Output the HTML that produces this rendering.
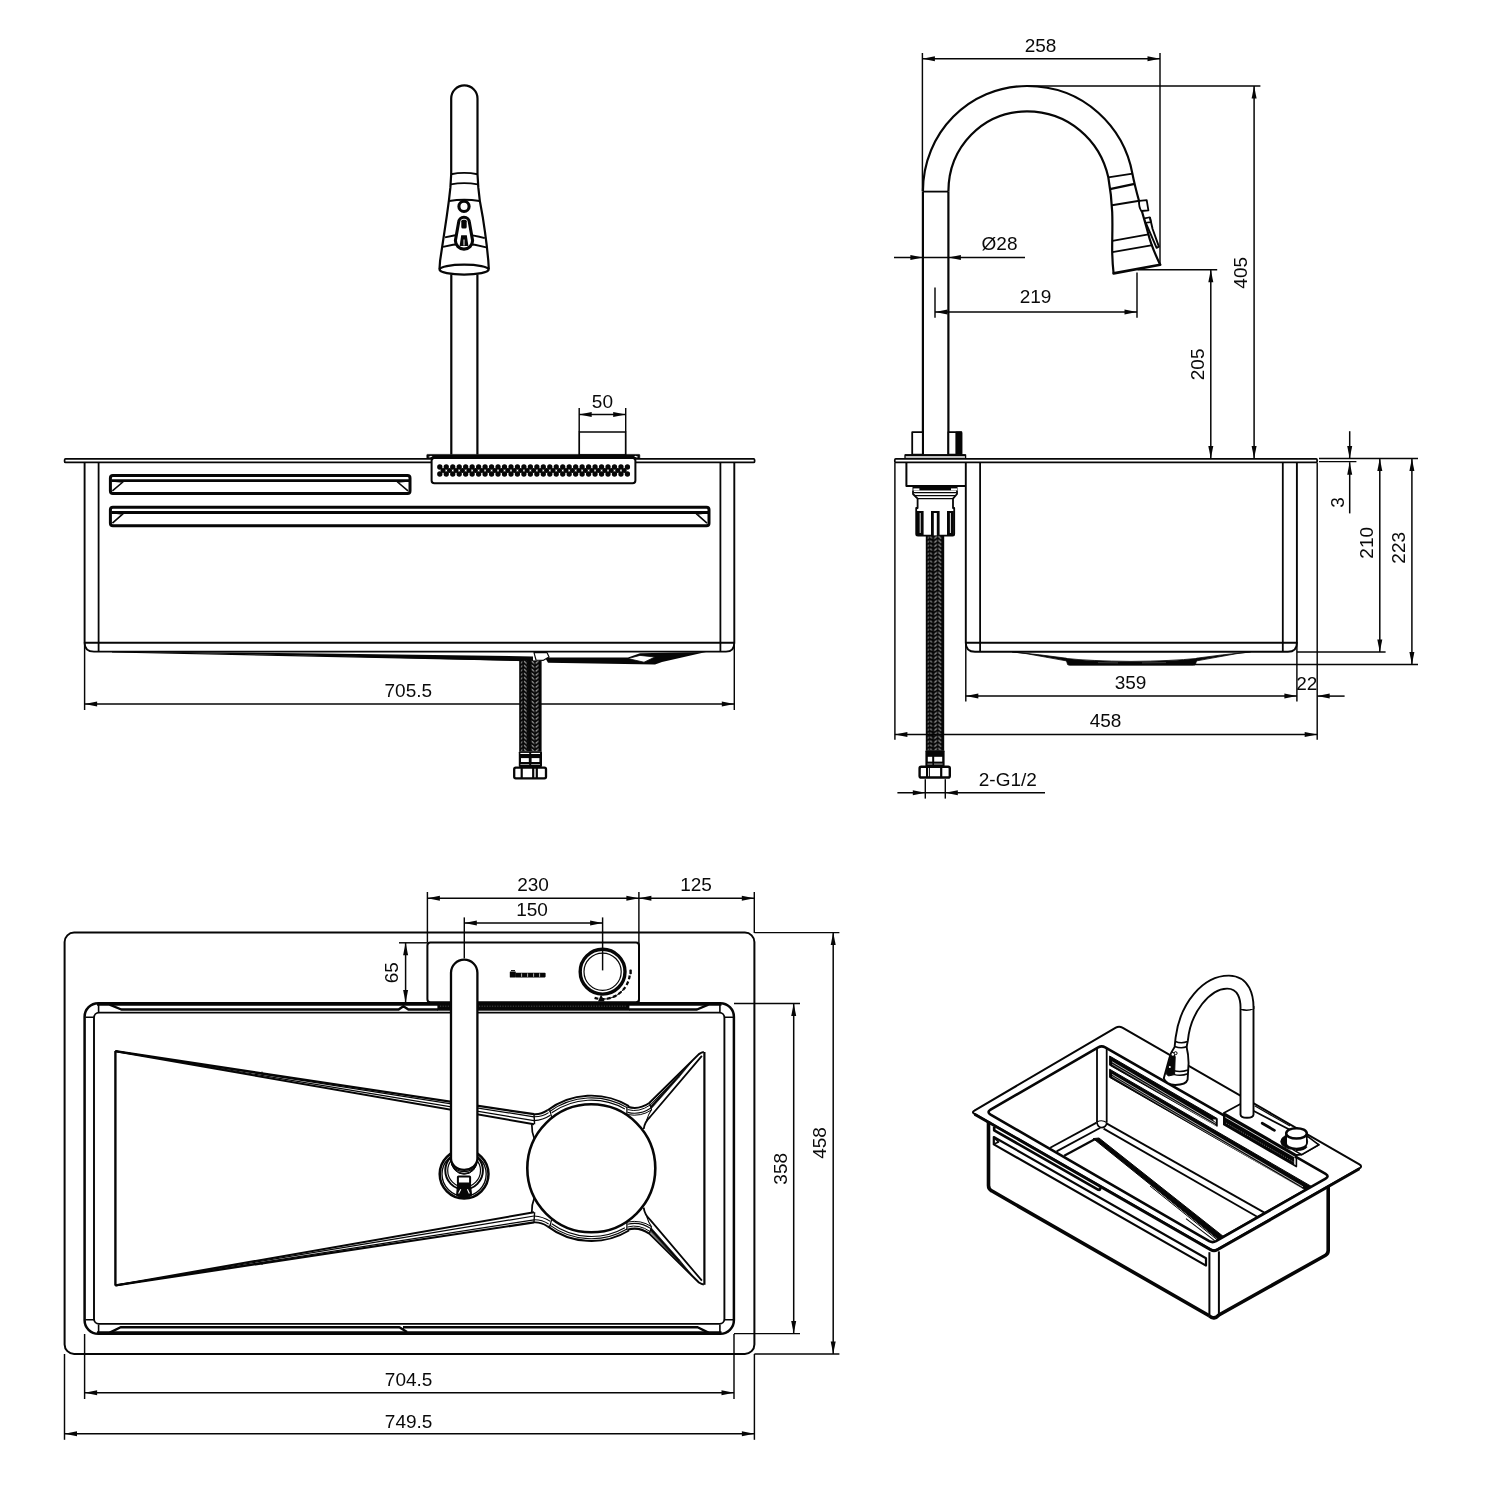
<!DOCTYPE html>
<html><head><meta charset="utf-8"><title>Sink drawing</title>
<style>
html,body{margin:0;padding:0;background:#fff;}
body{width:1485px;height:1500px;overflow:hidden;}
svg{display:block;}
svg{will-change:transform;}
svg text{font-family:"Liberation Sans",sans-serif;font-size:19.0px;fill:#0a0a0a;stroke:none;}
</style></head><body>
<svg width="1485" height="1500" viewBox="0 0 1485 1500" fill="none" stroke="#060606" stroke-linecap="butt" stroke-linejoin="round">
<rect x="0" y="0" width="1485" height="1500" fill="#fff" stroke="none"/>
<defs>
<pattern id="braid1" x="519.2" y="660.4" width="22.4" height="4" patternUnits="userSpaceOnUse">
<rect width="22.4" height="4" fill="#060606"/>
<path d="M1.8,2.6 L3.2,1.4 M4.8,0.8 L7.4,3.0 M12.4,0.8 L15,3.0 M16.4,3.0 L19.2,0.8" stroke="#fff" stroke-width="0.95" fill="none"/>
<circle cx="9" cy="1.4" r="0.55" fill="#ddd"/>
</pattern>
<pattern id="braid2" x="925.8" y="535.6" width="18.4" height="4" patternUnits="userSpaceOnUse">
<rect width="18.4" height="4" fill="#060606"/>
<path d="M1.8,2.7 L3.0,1.5 M4.4,1.0 L6.0,2.8 M8.4,3.0 L11.2,0.8 M12.6,0.6 L15.4,3.0" stroke="#fff" stroke-width="0.95" fill="none"/>
</pattern>
</defs>
<path d="M451.2,174 L451.2,98.6 A13.15,13.15 0 0 1 477.5,98.6 L477.5,174" stroke-width="2.2" fill="none" />
<path d="M451,174.2 Q464,171.6 477.6,174.2" stroke-width="1.9" fill="none" />
<path d="M450.8,184.4 Q464,181.8 477.8,184.4" stroke-width="1.9" fill="none" />
<path d="M449.2,201 Q464,198.6 479.6,201" stroke-width="1.9" fill="none" />
<path d="M451.2,174 L450.4,187.4 L448.9,200.6 L446.7,216.7 L444.5,231.4 L442.3,246 L440.1,260.7 L439.5,269" stroke-width="2.2" fill="none" />
<path d="M477.5,174 L478.3,187.4 L479.8,200.6 L482.7,216.7 L484.9,231.4 L486.8,246 L488.3,260.7 L488.8,269" stroke-width="2.2" fill="none" />
<path d="M445,237.4 Q464,231.6 484.8,238.2" stroke-width="1.9" fill="none" />
<path d="M443,246.8 Q464,241 486.4,247.4" stroke-width="1.9" fill="none" />
<ellipse cx="464.1" cy="269.6" rx="24.5" ry="5.0" stroke-width="2.4" fill="#fff" />
<circle cx="464" cy="206.4" r="5.1" stroke-width="3.1" fill="#fff"/>
<path d="M458.6,222.6 A5.4,5.4 0 0 1 469.4,222.6 L472.6,240.5 A8.6,8.6 0 0 1 455.4,240.5 Z" stroke-width="3.1" fill="#fff" />
<rect x="461.3" y="219.8" width="5.4" height="8.8" rx="1.5" stroke-width="0" fill="#060606" stroke="none"/>
<path d="M461.2,235.2 L466.8,235.2 L468.4,246 L459.6,246 Z" stroke-width="0" fill="#060606" stroke="none"/>
<line x1="464" y1="239.5" x2="464" y2="245.5" stroke-width="1.0" stroke="#fff"/>
<line x1="451.3" y1="274.4" x2="451.3" y2="454.6" stroke-width="2.2" />
<line x1="477.4" y1="274.4" x2="477.4" y2="454.6" stroke-width="2.2" />
<rect x="579.2" y="432" width="46.5" height="23" rx="0" stroke-width="1.7" fill="none" />
<line x1="579.2" y1="408" x2="579.2" y2="432" stroke-width="1.45" />
<line x1="625.7" y1="408" x2="625.7" y2="432" stroke-width="1.45" />
<line x1="579.2" y1="414.6" x2="625.7" y2="414.6" stroke-width="1.5" /><polygon points="579.2,414.6 591.7,412.1 591.7,417.1" fill="#060606" stroke="none"/><polygon points="625.7,414.6 613.2,412.1 613.2,417.1" fill="#060606" stroke="none"/>
<text x="602.4" y="407.6" text-anchor="middle">50</text>
<rect x="64.6" y="458.9" width="690" height="3.5" rx="1" stroke-width="1.7" fill="none" />
<rect x="426.8" y="454.4" width="213" height="3.8" rx="0.6" stroke-width="0.6" fill="#060606" />
<polygon points="428.2,457 431,455.8 432.6,456.4 430,457.6" fill="#fff" stroke="none"/>
<polygon points="638.4,457 635.6,455.8 634,456.4 636.6,457.6" fill="#fff" stroke="none"/>
<rect x="431.6" y="458" width="203.8" height="25.2" rx="2.8" stroke-width="2.0" fill="#fff" />
<g fill="#060606" stroke="none"><circle cx="439.80" cy="467" r="2.65"/><circle cx="439.80" cy="474" r="2.65"/><circle cx="446.27" cy="467" r="2.65"/><circle cx="446.27" cy="474" r="2.65"/><circle cx="452.74" cy="467" r="2.65"/><circle cx="452.74" cy="474" r="2.65"/><circle cx="459.21" cy="467" r="2.65"/><circle cx="459.21" cy="474" r="2.65"/><circle cx="465.68" cy="467" r="2.65"/><circle cx="465.68" cy="474" r="2.65"/><circle cx="472.15" cy="467" r="2.65"/><circle cx="472.15" cy="474" r="2.65"/><circle cx="478.62" cy="467" r="2.65"/><circle cx="478.62" cy="474" r="2.65"/><circle cx="485.09" cy="467" r="2.65"/><circle cx="485.09" cy="474" r="2.65"/><circle cx="491.56" cy="467" r="2.65"/><circle cx="491.56" cy="474" r="2.65"/><circle cx="498.03" cy="467" r="2.65"/><circle cx="498.03" cy="474" r="2.65"/><circle cx="504.50" cy="467" r="2.65"/><circle cx="504.50" cy="474" r="2.65"/><circle cx="510.97" cy="467" r="2.65"/><circle cx="510.97" cy="474" r="2.65"/><circle cx="517.44" cy="467" r="2.65"/><circle cx="517.44" cy="474" r="2.65"/><circle cx="523.91" cy="467" r="2.65"/><circle cx="523.91" cy="474" r="2.65"/><circle cx="530.38" cy="467" r="2.65"/><circle cx="530.38" cy="474" r="2.65"/><circle cx="536.85" cy="467" r="2.65"/><circle cx="536.85" cy="474" r="2.65"/><circle cx="543.32" cy="467" r="2.65"/><circle cx="543.32" cy="474" r="2.65"/><circle cx="549.79" cy="467" r="2.65"/><circle cx="549.79" cy="474" r="2.65"/><circle cx="556.26" cy="467" r="2.65"/><circle cx="556.26" cy="474" r="2.65"/><circle cx="562.73" cy="467" r="2.65"/><circle cx="562.73" cy="474" r="2.65"/><circle cx="569.20" cy="467" r="2.65"/><circle cx="569.20" cy="474" r="2.65"/><circle cx="575.67" cy="467" r="2.65"/><circle cx="575.67" cy="474" r="2.65"/><circle cx="582.14" cy="467" r="2.65"/><circle cx="582.14" cy="474" r="2.65"/><circle cx="588.61" cy="467" r="2.65"/><circle cx="588.61" cy="474" r="2.65"/><circle cx="595.08" cy="467" r="2.65"/><circle cx="595.08" cy="474" r="2.65"/><circle cx="601.55" cy="467" r="2.65"/><circle cx="601.55" cy="474" r="2.65"/><circle cx="608.02" cy="467" r="2.65"/><circle cx="608.02" cy="474" r="2.65"/><circle cx="614.49" cy="467" r="2.65"/><circle cx="614.49" cy="474" r="2.65"/><circle cx="620.96" cy="467" r="2.65"/><circle cx="620.96" cy="474" r="2.65"/><circle cx="627.43" cy="467" r="2.65"/><circle cx="627.43" cy="474" r="2.65"/><circle cx="443.04" cy="470.5" r="2.5"/><circle cx="449.50" cy="470.5" r="2.5"/><circle cx="455.98" cy="470.5" r="2.5"/><circle cx="462.44" cy="470.5" r="2.5"/><circle cx="468.92" cy="470.5" r="2.5"/><circle cx="475.38" cy="470.5" r="2.5"/><circle cx="481.86" cy="470.5" r="2.5"/><circle cx="488.32" cy="470.5" r="2.5"/><circle cx="494.80" cy="470.5" r="2.5"/><circle cx="501.26" cy="470.5" r="2.5"/><circle cx="507.74" cy="470.5" r="2.5"/><circle cx="514.21" cy="470.5" r="2.5"/><circle cx="520.67" cy="470.5" r="2.5"/><circle cx="527.14" cy="470.5" r="2.5"/><circle cx="533.62" cy="470.5" r="2.5"/><circle cx="540.09" cy="470.5" r="2.5"/><circle cx="546.56" cy="470.5" r="2.5"/><circle cx="553.02" cy="470.5" r="2.5"/><circle cx="559.50" cy="470.5" r="2.5"/><circle cx="565.97" cy="470.5" r="2.5"/><circle cx="572.43" cy="470.5" r="2.5"/><circle cx="578.90" cy="470.5" r="2.5"/><circle cx="585.38" cy="470.5" r="2.5"/><circle cx="591.85" cy="470.5" r="2.5"/><circle cx="598.32" cy="470.5" r="2.5"/><circle cx="604.78" cy="470.5" r="2.5"/><circle cx="611.25" cy="470.5" r="2.5"/><circle cx="617.73" cy="470.5" r="2.5"/><circle cx="624.19" cy="470.5" r="2.5"/></g>
<path d="M84.6,462.5 L84.6,643 Q84.6,651.6 94,651.6 L726,651.6 Q734.3,651.6 734.3,643 L734.3,462.5" stroke-width="1.9" fill="none" />
<line x1="98.6" y1="462.5" x2="98.6" y2="651.6" stroke-width="1.8" />
<line x1="720.4" y1="462.5" x2="720.4" y2="651.6" stroke-width="1.8" />
<line x1="84.6" y1="642.7" x2="734.3" y2="642.7" stroke-width="1.9" />
<rect x="110.4" y="475.4" width="299.6" height="18.0" rx="2.5" stroke-width="3.0" fill="none" /><line x1="111.4" y1="480.59999999999997" x2="409" y2="480.59999999999997" stroke-width="2.8" /><path d="M112.4,480.9 L122.9,482.0 L112.4,490.9" stroke-width="1.6" fill="none" /><path d="M408,480.9 L397.5,482.0 L408,490.9" stroke-width="1.6" fill="none" />
<rect x="110.4" y="507.3" width="598.6" height="18.400000000000034" rx="2.5" stroke-width="3.0" fill="none" /><line x1="111.4" y1="512.5" x2="708" y2="512.5" stroke-width="2.8" /><path d="M112.4,512.8 L122.9,513.9 L112.4,523.2" stroke-width="1.6" fill="none" /><path d="M707,512.8 L696.5,513.9 L707,523.2" stroke-width="1.6" fill="none" />
<polygon points="112,651.6 300,653.2 533,656.4 533,661.4 300,655.4" fill="#060606" stroke="none"/>
<line x1="112" y1="652" x2="533" y2="660.6" stroke-width="1.2" />
<polygon points="545,657.4 628,657.4 640,653.2 706,652 662,662 655,664.6 548,662.8" fill="#060606" stroke="none"/>
<polygon points="551,653.4 636,653.4 627,656.2 549.5,656.2" fill="#fff" stroke="none"/>
<polygon points="628,658.6 640,655.4 655,657 644,662.2" fill="#fff" stroke="#060606" stroke-width="0.8"/>
<polygon points="534,652.6 547,652.6 549,657 543,660.4 536,660" fill="#fff" stroke="#060606" stroke-width="1.2"/>
<line x1="84.6" y1="642" x2="84.6" y2="710" stroke-width="1.45" />
<line x1="734.3" y1="642" x2="734.3" y2="710" stroke-width="1.45" />
<line x1="84.6" y1="704.1" x2="734.3" y2="704.1" stroke-width="1.5" /><polygon points="84.6,704.1 97.1,701.6 97.1,706.6" fill="#060606" stroke="none"/><polygon points="734.3,704.1 721.8,701.6 721.8,706.6" fill="#060606" stroke="none"/>
<text x="408.3" y="697.4" text-anchor="middle">705.5</text>
<rect x="519.2" y="660.4" width="22.4" height="91" rx="0" stroke-width="0" fill="url(#braid1)" stroke="none"/>
<rect x="518.8" y="751.2" width="23.2" height="15.8" rx="1" stroke-width="0" fill="#060606" stroke="none"/>
<rect x="520.4" y="752.9" width="8.8" height="1.1" rx="0" stroke-width="0" fill="#fff" stroke="none"/>
<rect x="531.2" y="752.9" width="8.8" height="1.1" rx="0" stroke-width="0" fill="#fff" stroke="none"/>
<rect x="521" y="758.1" width="7.8" height="3.9" rx="0" stroke-width="0" fill="#fff" stroke="none"/>
<rect x="531.6" y="758.1" width="7.8" height="3.9" rx="0" stroke-width="0" fill="#fff" stroke="none"/>
<rect x="520.4" y="764.2" width="8.8" height="0.8" rx="0" stroke-width="0" fill="#bbb" stroke="none"/>
<rect x="531.2" y="764.2" width="8.8" height="0.8" rx="0" stroke-width="0" fill="#bbb" stroke="none"/>
<rect x="514.2" y="767.6" width="31.8" height="10.8" rx="1.6" stroke-width="2.3" fill="#fff" />
<line x1="521.7" y1="767.5" x2="521.7" y2="778.5" stroke-width="2.2" />
<line x1="533.2" y1="767.5" x2="533.2" y2="778.5" stroke-width="2.2" />
<line x1="536.8" y1="767.5" x2="536.8" y2="778.5" stroke-width="2.2" />
<line x1="922.9" y1="191.6" x2="922.9" y2="454.6" stroke-width="2.2" />
<line x1="948.4" y1="191.6" x2="948.4" y2="454.6" stroke-width="2.2" />
<line x1="922.9" y1="191.6" x2="948.4" y2="191.6" stroke-width="1.8" />
<path d="M922.9,191.6 C922.9,133 969,86 1027,86 C1085,86 1124,128 1132.4,173.6 C1134,182 1136,190 1139.2,201.5 C1142,212 1146,225 1148.3,234 C1151,245 1156,256 1160.2,264.8" stroke-width="2.2" fill="none" />
<path d="M948.4,191.6 C948.4,147 983,111.4 1027,111.4 C1068,111.4 1100,140 1108.3,177.3 C1110,187 1111.6,198 1112.2,212 C1112.8,226 1112,240 1112.2,252 C1112.4,262 1113,268 1113.6,273.4" stroke-width="2.2" fill="none" />
<line x1="1108.3" y1="177.4" x2="1132.6" y2="173.6" stroke-width="1.9" />
<line x1="1109.9" y1="189.2" x2="1134.6" y2="183.8" stroke-width="2.3" />
<line x1="1112" y1="205.2" x2="1139.4" y2="200.7" stroke-width="1.9" />
<line x1="1112.4" y1="240.9" x2="1148.4" y2="234.4" stroke-width="1.9" />
<line x1="1112.4" y1="252.1" x2="1152.6" y2="245.1" stroke-width="1.9" />
<path d="M1113.6,273.4 L1160.2,264.8" stroke-width="2.6" fill="none" stroke-linecap="round"/>
<path d="M1139.2,200.8 L1146.7,200.2 L1148.4,210.4 L1141.4,211 Q1138.6,207 1139.2,200.8 Z" stroke-width="1.8" fill="#fff" />
<path d="M1144.5,218.4 L1149.9,217.3 L1150.9,222.1 L1145.6,222.8 Z" stroke-width="1.6" fill="#fff" />
<path d="M1149.9,217.3 L1152.6,229 L1158.9,246.6 L1156.6,247.8 L1145.8,222.8" stroke-width="1.9" fill="none" />
<rect x="894.8" y="458.9" width="422.3" height="3.5" rx="1" stroke-width="1.7" fill="#fff" />
<rect x="912.2" y="432.2" width="10.6" height="22.4" rx="0" stroke-width="1.8" fill="#fff" />
<rect x="948.4" y="432.2" width="13" height="22.4" rx="0" stroke-width="1.8" fill="#fff" />
<rect x="956" y="432.2" width="5.6" height="22.4" rx="0.8" stroke-width="1.2" fill="#060606" />
<rect x="905" y="454.8" width="60.6" height="3.6" rx="0" stroke-width="1.3" fill="#fff" />
<line x1="905" y1="455.3" x2="965.6" y2="455.3" stroke-width="1.9" />
<path d="M906.4,462.5 L906.4,486 L965.8,486" stroke-width="2" fill="none" />
<rect x="913" y="486" width="44" height="4.6" rx="0" stroke-width="1" fill="#060606" />
<rect x="913.4" y="488.4" width="6" height="2" rx="0" stroke-width="0" fill="#fff" stroke="none"/>
<rect x="951" y="488.4" width="6" height="2" rx="0" stroke-width="0" fill="#fff" stroke="none"/>
<path d="M913,490.6 L913,494 L917.6,498.6 L917.6,508 L916.2,508 L916.2,534 Q916.2,535.6 918,535.6 L952.6,535.6 Q954.2,535.6 954.2,534 L954.2,508 L953,508 L953,498.6 L957,494 L957,490.6" stroke-width="1.8" fill="#fff" />
<line x1="913.6" y1="492.6" x2="956.6" y2="492.6" stroke-width="1.4" />
<line x1="915" y1="495.6" x2="955" y2="495.6" stroke-width="1.4" />
<line x1="917.6" y1="498.6" x2="953" y2="498.6" stroke-width="1.4" />
<rect x="916.8" y="511" width="6.8" height="24" rx="0" stroke-width="0" fill="#060606" stroke="none"/>
<line x1="920.2" y1="513" x2="920.2" y2="533" stroke-width="0.9" stroke="#fff"/>
<rect x="947" y="511" width="6.8" height="24" rx="0" stroke-width="0" fill="#060606" stroke="none"/>
<line x1="950.4" y1="513" x2="950.4" y2="533" stroke-width="0.9" stroke="#fff"/>
<rect x="931" y="511" width="8.6" height="24" rx="0" stroke-width="0" fill="#060606" stroke="none"/>
<rect x="933.8" y="513" width="3" height="22.6" rx="0" stroke-width="0" fill="#fff" stroke="none"/>
<path d="M965.8,462.5 L965.8,643 Q965.8,651.8 975,651.8 L1288,651.8 Q1296.9,651.8 1296.9,643 L1296.9,462.5" stroke-width="1.9" fill="none" />
<line x1="980.1" y1="462.5" x2="980.1" y2="651.8" stroke-width="1.8" />
<line x1="1282.8" y1="462.5" x2="1282.8" y2="651.8" stroke-width="1.8" />
<line x1="965.8" y1="642.8" x2="1296.9" y2="642.8" stroke-width="1.9" />
<path d="M1012,651.9 Q1040,654.6 1066.4,658.2 L1067,661 Q1044,656.8 1026,653.6 Z" stroke-width="0.8" fill="#060606" />
<path d="M1250.6,651.9 Q1222,654.6 1196.6,658.2 L1196,661 Q1219,656.8 1237,653.6 Z" stroke-width="0.8" fill="#060606" />
<path d="M1065.8,658.4 Q1090,661 1131,661.4 Q1172,661 1197.2,658.4 L1195.4,664.6 Q1194.6,665.2 1193,665.2 L1070,665.2 Q1068.4,665.2 1067.6,664.6 Z" stroke-width="0.8" fill="#060606" />
<line x1="1098" y1="662.6" x2="1118" y2="662.9" stroke-width="0.7" stroke="#555"/>
<line x1="1142" y1="662.9" x2="1166" y2="662.6" stroke-width="0.7" stroke="#555"/>
<rect x="925.8" y="535.6" width="18.4" height="215" rx="0" stroke-width="0" fill="url(#braid2)" stroke="none"/>
<rect x="925.4" y="750.2" width="19.2" height="16.6" rx="1" stroke-width="0" fill="#060606" stroke="none"/>
<rect x="927.8" y="756.8" width="4.4" height="4.8" rx="0" stroke-width="0" fill="#fff" stroke="none"/>
<rect x="934.2" y="756.8" width="8" height="4.8" rx="0" stroke-width="0" fill="#fff" stroke="none"/>
<rect x="927.4" y="763.6" width="5" height="0.9" rx="0" stroke-width="0" fill="#bbb" stroke="none"/>
<rect x="934" y="763.6" width="8.6" height="0.9" rx="0" stroke-width="0" fill="#bbb" stroke="none"/>
<rect x="919.6" y="766.8" width="30.2" height="10.7" rx="1.6" stroke-width="2.4" fill="#fff" />
<line x1="927" y1="766.8" x2="927" y2="777.5" stroke-width="2.0" />
<line x1="929.4" y1="766.8" x2="929.4" y2="777.5" stroke-width="1.0" />
<line x1="941.2" y1="766.8" x2="941.2" y2="777.5" stroke-width="2.2" />
<line x1="922.4" y1="53" x2="922.4" y2="191" stroke-width="1.45" />
<line x1="1160" y1="53" x2="1160" y2="264.6" stroke-width="1.45" />
<line x1="922.4" y1="58.8" x2="1160" y2="58.8" stroke-width="1.5" /><polygon points="922.4,58.8 934.9,56.3 934.9,61.3" fill="#060606" stroke="none"/><polygon points="1160,58.8 1147.5,56.3 1147.5,61.3" fill="#060606" stroke="none"/>
<text x="1040.6" y="51.6" text-anchor="middle">258</text>
<line x1="1027" y1="86" x2="1260.4" y2="86" stroke-width="1.45" />
<line x1="1254.1" y1="86" x2="1254.1" y2="458.6" stroke-width="1.5" /><polygon points="1254.1,86 1251.6,98.5 1256.6,98.5" fill="#060606" stroke="none"/><polygon points="1254.1,458.6 1251.6,446.1 1256.6,446.1" fill="#060606" stroke="none"/>
<text transform="translate(1247.2,272.8) rotate(-90)" text-anchor="middle">405</text>
<line x1="1137.6" y1="269.8" x2="1217.2" y2="269.8" stroke-width="1.45" />
<line x1="1210.8" y1="269.8" x2="1210.8" y2="458.6" stroke-width="1.5" /><polygon points="1210.8,269.8 1208.3,282.3 1213.3,282.3" fill="#060606" stroke="none"/><polygon points="1210.8,458.6 1208.3,446.1 1213.3,446.1" fill="#060606" stroke="none"/>
<text transform="translate(1204,364.4) rotate(-90)" text-anchor="middle">205</text>
<line x1="894" y1="257.6" x2="1025" y2="257.6" stroke-width="1.5" />
<polygon points="922.9,257.6 910.4,255.10000000000002 910.4,260.1" fill="#060606" stroke="none"/>
<polygon points="948.4,257.6 960.9,255.10000000000002 960.9,260.1" fill="#060606" stroke="none"/>
<text x="999.5" y="249.8" text-anchor="middle">Ø28</text>
<line x1="935" y1="287.4" x2="935" y2="317.8" stroke-width="1.45" />
<line x1="1137" y1="272.4" x2="1137" y2="317.8" stroke-width="1.45" />
<line x1="935" y1="311.9" x2="1137" y2="311.9" stroke-width="1.5" /><polygon points="935,311.9 947.5,309.4 947.5,314.4" fill="#060606" stroke="none"/><polygon points="1137,311.9 1124.5,309.4 1124.5,314.4" fill="#060606" stroke="none"/>
<text x="1035.6" y="303.4" text-anchor="middle">219</text>
<line x1="965.8" y1="642" x2="965.8" y2="701.6" stroke-width="1.45" />
<line x1="1296.9" y1="642" x2="1296.9" y2="701.6" stroke-width="1.45" />
<line x1="965.8" y1="696.1" x2="1296.9" y2="696.1" stroke-width="1.5" /><polygon points="965.8,696.1 978.3,693.6 978.3,698.6" fill="#060606" stroke="none"/><polygon points="1296.9,696.1 1284.4,693.6 1284.4,698.6" fill="#060606" stroke="none"/>
<text x="1130.6" y="689.2" text-anchor="middle">359</text>
<line x1="1317.2" y1="696.1" x2="1344.6" y2="696.1" stroke-width="1.5" />
<polygon points="1317.2,696.1 1329.7,693.6 1329.7,698.6" fill="#060606" stroke="none"/>
<text x="1306.8" y="689.8" text-anchor="middle">22</text>
<line x1="894.9" y1="463" x2="894.9" y2="739.8" stroke-width="1.45" />
<line x1="1317.2" y1="463" x2="1317.2" y2="739.8" stroke-width="1.45" />
<line x1="894.9" y1="734.6" x2="1317.2" y2="734.6" stroke-width="1.5" /><polygon points="894.9,734.6 907.4,732.1 907.4,737.1" fill="#060606" stroke="none"/><polygon points="1317.2,734.6 1304.7,732.1 1304.7,737.1" fill="#060606" stroke="none"/>
<text x="1105.5" y="727.4" text-anchor="middle">458</text>
<line x1="1349.7" y1="431.2" x2="1349.7" y2="458.4" stroke-width="1.5" />
<line x1="1349.7" y1="462.2" x2="1349.7" y2="513.4" stroke-width="1.5" />
<polygon points="1349.7,458.4 1347.2,445.9 1352.2,445.9" fill="#060606" stroke="none"/>
<polygon points="1349.7,462.2 1347.2,474.7 1352.2,474.7" fill="#060606" stroke="none"/>
<line x1="1319" y1="458.5" x2="1418" y2="458.5" stroke-width="1.45" />
<line x1="1319" y1="461.6" x2="1356.4" y2="461.6" stroke-width="1.45" />
<text transform="translate(1343.6,502.4) rotate(-90)" text-anchor="middle">3</text>
<line x1="1379.8" y1="458.6" x2="1379.8" y2="652" stroke-width="1.5" /><polygon points="1379.8,458.6 1377.3,471.1 1382.3,471.1" fill="#060606" stroke="none"/><polygon points="1379.8,652 1377.3,639.5 1382.3,639.5" fill="#060606" stroke="none"/>
<line x1="1297" y1="652" x2="1385.6" y2="652" stroke-width="1.45" />
<text transform="translate(1372.8,542.8) rotate(-90)" text-anchor="middle">210</text>
<line x1="1411.9" y1="458.6" x2="1411.9" y2="664.4" stroke-width="1.5" /><polygon points="1411.9,458.6 1409.4,471.1 1414.4,471.1" fill="#060606" stroke="none"/><polygon points="1411.9,664.4 1409.4,651.9 1414.4,651.9" fill="#060606" stroke="none"/>
<line x1="1194" y1="664.4" x2="1418" y2="664.4" stroke-width="1.45" />
<text transform="translate(1405.2,547.8) rotate(-90)" text-anchor="middle">223</text>
<line x1="925.3" y1="779.2" x2="925.3" y2="798.6" stroke-width="1.45" />
<line x1="945.3" y1="779.2" x2="945.3" y2="798.6" stroke-width="1.45" />
<line x1="897.4" y1="792.8" x2="1045" y2="792.8" stroke-width="1.5" />
<polygon points="925.3,792.8 912.8,790.3 912.8,795.3" fill="#060606" stroke="none"/>
<polygon points="945.3,792.8 957.8,790.3 957.8,795.3" fill="#060606" stroke="none"/>
<text x="1007.8" y="785.8" text-anchor="middle">2-G1/2</text>
<rect x="64.6" y="932.6" width="689.8" height="421.3" rx="9.5" stroke-width="2.0" fill="none" />
<rect x="84.6" y="1003.2" width="649.3" height="330.6" rx="13.6" stroke-width="2.5" fill="none" />
<rect x="94" y="1012.6" width="630.4" height="311.3" rx="5" stroke-width="1.9" fill="none" />
<path d="M98.6,1003.8000000000001 L98.6,1012.6 M85.39999999999999,1017.2 L94.0,1017.2" stroke-width="1.6" fill="none" />
<path d="M719.9,1003.8000000000001 L719.9,1012.6 M733.1,1017.2 L724.5,1017.2" stroke-width="1.6" fill="none" />
<path d="M98.6,1333.2 L98.6,1324.3999999999999 M85.39999999999999,1319.8 L94.0,1319.8" stroke-width="1.6" fill="none" />
<path d="M719.9,1333.2 L719.9,1324.3999999999999 M733.1,1319.8 L724.5,1319.8" stroke-width="1.6" fill="none" />
<line x1="97" y1="1004.5" x2="721.5" y2="1004.5" stroke-width="2.4" />
<path d="M109.6,1004.6 L121.3,1009.5 L398.6,1009.5 L403.4,1006.2 L408.4,1009.5 L438,1009.5" stroke-width="2.4" fill="none" />
<path d="M629,1009.5 L697,1009.5 L708.4,1004.6" stroke-width="2.4" fill="none" />
<rect x="437.4" y="1002.2" width="192" height="8.5" rx="0" stroke-width="0" fill="#060606" stroke="none"/>
<line x1="440" y1="1006.2" x2="626" y2="1006.2" stroke-width="0.7" stroke="#666" stroke-dasharray="1.2 1.4"/>
<line x1="97" y1="1332.6" x2="721.5" y2="1332.6" stroke-width="2.6" />
<path d="M109.8,1332.6 L120.6,1327.2 L399.4,1327.2 L407,1332 M403,1327.2 L697.6,1327.2 L708.4,1332.6" stroke-width="2.4" fill="none" />
<line x1="115.4" y1="1051" x2="115.4" y2="1285.6" stroke-width="2.4" />
<line x1="115.4" y1="1051.2" x2="534" y2="1114.2" stroke-width="2.2" />
<line x1="115.4" y1="1285.3999999999999" x2="534" y2="1222.3999999999999" stroke-width="2.2" />
<line x1="115.4" y1="1051.2" x2="534" y2="1116.8" stroke-width="1.2" />
<line x1="115.4" y1="1285.3999999999999" x2="534" y2="1219.8" stroke-width="1.2" />
<line x1="115.4" y1="1051.2" x2="534" y2="1120.6" stroke-width="1.2" />
<line x1="115.4" y1="1285.3999999999999" x2="534" y2="1216.0" stroke-width="1.2" />
<line x1="115.4" y1="1051.2" x2="534" y2="1124.3" stroke-width="2.0" />
<line x1="115.4" y1="1285.3999999999999" x2="534" y2="1212.3" stroke-width="2.0" />
<line x1="262" y1="1071.6" x2="262" y2="1074.6" stroke-width="1.0" />
<line x1="262" y1="1265.0" x2="262" y2="1262.0" stroke-width="1.0" />
<path d="M534,1114.2 Q541,1114.6 547.3,1110.4" stroke-width="1.9" fill="none" />
<path d="M534,1116.8 Q542,1117.0 548.6,1112.6" stroke-width="1.1" fill="none" />
<path d="M534,1120.6 Q543,1120.0 550.4,1115.2" stroke-width="1.1" fill="none" />
<line x1="534" y1="1114.2" x2="534.6" y2="1124.3" stroke-width="1.4" />
<line x1="549.6" y1="1109.4" x2="551.6" y2="1116.8" stroke-width="1.2" />
<path d="M531.8,1124.3 Q531.6,1132.0 534.4,1139.0" stroke-width="1.7" fill="none" />
<path d="M547.24,1110.47 A72.7,72.7 0 0 1 628.96,1106.12" stroke-width="1.9" fill="none" />
<path d="M549.42,1111.71 A70.4,70.4 0 0 1 627.03,1107.64" stroke-width="1.1" fill="none" />
<path d="M551.70,1112.78 A68.2,68.2 0 0 1 624.88,1108.94" stroke-width="1.1" fill="none" />
<line x1="626.9" y1="1106.6" x2="626.9" y2="1114.6" stroke-width="1.3" />
<path d="M627.6,1106.8 Q638.4,1110.4 649.3,1103.0 L698.9,1054.1 Q701.6,1052.2 703.8,1052.0" stroke-width="2.0" fill="none" />
<path d="M627.6,1109.6 Q639,1112.8 650.2,1105.0 L678.4,1076.2" stroke-width="1.0" fill="none" />
<path d="M627.6,1112.4 Q640,1115.4 650.9,1108.0" stroke-width="1.1" fill="none" />
<path d="M627.8,1114.6 Q641,1117.0 651.4,1110.0" stroke-width="1.0" fill="none" />
<line x1="649.6" y1="1103.4" x2="651.6" y2="1110.2" stroke-width="1.2" />
<polygon points="650.4,1106.2 678.6,1075.6 692,1061.6 678.8,1077.6 651.4,1108.6" fill="#060606" stroke="#060606" stroke-width="0.6"/>
<line x1="678" y1="1075.0" x2="679" y2="1077.4" stroke-width="1.0" />
<path d="M643.7,1129.0 Q644.6,1122.0 650,1117.0 L701.9,1055.9" stroke-width="1.8" fill="none" />
<path d="M651.4,1110.0 Q648.6,1113.6 646.6,1120.4" stroke-width="1.1" fill="none" />
<path d="M534,1222.3999999999999 Q541,1222.0 547.3,1226.1999999999998" stroke-width="1.9" fill="none" />
<path d="M534,1219.8 Q542,1219.6 548.6,1224.0" stroke-width="1.1" fill="none" />
<path d="M534,1216.0 Q543,1216.6 550.4,1221.3999999999999" stroke-width="1.1" fill="none" />
<line x1="534" y1="1222.3999999999999" x2="534.6" y2="1212.3" stroke-width="1.4" />
<line x1="549.6" y1="1227.1999999999998" x2="551.6" y2="1219.8" stroke-width="1.2" />
<path d="M531.8,1212.3 Q531.6,1204.6 534.4,1197.6" stroke-width="1.7" fill="none" />
<path d="M547.24,1226.13 A72.7,72.7 0 0 0 628.96,1230.48" stroke-width="1.9" fill="none" />
<path d="M549.42,1224.89 A70.4,70.4 0 0 0 627.03,1228.96" stroke-width="1.1" fill="none" />
<path d="M551.70,1223.82 A68.2,68.2 0 0 0 624.88,1227.66" stroke-width="1.1" fill="none" />
<line x1="626.9" y1="1230.0" x2="626.9" y2="1222.0" stroke-width="1.3" />
<path d="M627.6,1229.8 Q638.4,1226.1999999999998 649.3,1233.6 L698.9,1282.5 Q701.6,1284.3999999999999 703.8,1284.6" stroke-width="2.0" fill="none" />
<path d="M627.6,1227.0 Q639,1223.8 650.2,1231.6 L678.4,1260.3999999999999" stroke-width="1.0" fill="none" />
<path d="M627.6,1224.1999999999998 Q640,1221.1999999999998 650.9,1228.6" stroke-width="1.1" fill="none" />
<path d="M627.8,1222.0 Q641,1219.6 651.4,1226.6" stroke-width="1.0" fill="none" />
<line x1="649.6" y1="1233.1999999999998" x2="651.6" y2="1226.3999999999999" stroke-width="1.2" />
<polygon points="650.4,1230.3999999999999 678.6,1261.0 692,1275.0 678.8,1259.0 651.4,1228.0" fill="#060606" stroke="#060606" stroke-width="0.6"/>
<line x1="678" y1="1261.6" x2="679" y2="1259.1999999999998" stroke-width="1.0" />
<path d="M643.7,1207.6 Q644.6,1214.6 650,1219.6 L701.9,1280.6999999999998" stroke-width="1.8" fill="none" />
<path d="M651.4,1226.6 Q648.6,1223.0 646.6,1216.1999999999998" stroke-width="1.1" fill="none" />
<line x1="704.4" y1="1052" x2="704.4" y2="1284.8" stroke-width="2.2" />
<circle cx="591.3" cy="1168.3" r="64" stroke-width="2.6" fill="none"/>
<rect x="427.4" y="942.4" width="211.6" height="59.8" rx="3" stroke-width="2.0" fill="#fff" />
<circle cx="602.6" cy="971.7" r="22.4" stroke-width="3.4" fill="#fff"/>
<circle cx="602.6" cy="971.7" r="18.6" stroke-width="1.2" fill="none"/>
<path d="M629.73,975.51 A27.4,27.4 0 0 1 628.94,979.25 M628.18,981.52 A27.4,27.4 0 0 1 626.56,984.98 M625.32,987.02 A27.4,27.4 0 0 1 622.96,990.03 M621.29,991.74 A27.4,27.4 0 0 1 618.32,994.14 M616.30,995.43 A27.4,27.4 0 0 1 612.86,997.10 M610.61,997.90 A27.4,27.4 0 0 1 606.89,998.76 M604.51,999.03 A27.4,27.4 0 0 1 600.69,999.03 M598.31,998.76 A27.4,27.4 0 0 1 594.59,997.90" stroke-width="2.2" fill="none" />
<path d="M623.4,989.6 A27.4,27.4 0 0 1 600,999" stroke-width="1.0" fill="none" />
<rect x="629.4" y="969.6" width="2.4" height="4.6" rx="0.8" stroke-width="0" fill="#060606" stroke="none"/>
<polygon points="598,1001.6 601,994.6 604.6,1001.6" fill="#060606" stroke="none"/>
<rect x="509.8" y="971.6" width="6" height="5.8" rx="0.5" stroke-width="0" fill="#060606" stroke="none"/>
<rect x="515.4" y="972.8" width="30.2" height="4.6" rx="0.8" stroke-width="0" fill="#060606" stroke="none"/>
<line x1="511" y1="970.6" x2="515" y2="970.6" stroke-width="1" />
<line x1="521.6" y1="973.4" x2="521.6" y2="976.8" stroke-width="0.7" stroke="#fff"/>
<line x1="527.6" y1="973.4" x2="527.6" y2="976.8" stroke-width="0.7" stroke="#fff"/>
<line x1="533.6" y1="973.4" x2="533.6" y2="976.8" stroke-width="0.7" stroke="#fff"/>
<line x1="539.6" y1="973.4" x2="539.6" y2="976.8" stroke-width="0.7" stroke="#fff"/>
<circle cx="464.1" cy="1174.1" r="24.4" stroke-width="2.5" fill="#fff"/>
<circle cx="464.1" cy="1174.1" r="22.1" stroke-width="1.3" fill="none"/>
<circle cx="464.1" cy="1170.6" r="18.8" stroke-width="2.0" fill="none"/>
<circle cx="464.1" cy="1170.6" r="16.4" stroke-width="1.2" fill="none"/>
<path d="M457.6,1183.2 L470.4,1183.2 L471.6,1195.6 Q464.1,1199.6 456.6,1195.6 Z" stroke-width="1" fill="#060606" />
<rect x="457.9" y="1176.4" width="12.2" height="7" rx="0.6" stroke-width="2.0" fill="#fff" />
<path d="M460.8,1189.2 L458.6,1193.4 M467.4,1189.2 L469.4,1193.4" stroke-width="1.1" fill="none" stroke="#fff"/>
<path d="M450.9,1158 A13.2,15.4 0 0 0 477.4,1158 L477.4,1160 A13.2,14.2 0 0 1 450.9,1160 Z" stroke-width="1" fill="#060606" />
<path d="M451.6,1164 A13.4,11.8 0 0 0 476.6,1164" stroke-width="1.2" fill="none" />
<path d="M451,1158.6 L451,972.8 A13.2,13.2 0 0 1 477.4,972.8 L477.4,1158.6 A13.2,11.2 0 0 1 451,1158.6 Z" stroke-width="2.3" fill="#fff" />
<line x1="427.4" y1="892" x2="427.4" y2="942.6" stroke-width="1.45" />
<line x1="638.9" y1="892" x2="638.9" y2="1002" stroke-width="1.45" />
<line x1="754.3" y1="892" x2="754.3" y2="933" stroke-width="1.45" />
<line x1="427.4" y1="898.2" x2="638.9" y2="898.2" stroke-width="1.5" /><polygon points="427.4,898.2 439.9,895.7 439.9,900.7" fill="#060606" stroke="none"/><polygon points="638.9,898.2 626.4,895.7 626.4,900.7" fill="#060606" stroke="none"/>
<text x="533" y="891" text-anchor="middle">230</text>
<line x1="638.9" y1="898.2" x2="754.3" y2="898.2" stroke-width="1.5" /><polygon points="638.9,898.2 651.4,895.7 651.4,900.7" fill="#060606" stroke="none"/><polygon points="754.3,898.2 741.8,895.7 741.8,900.7" fill="#060606" stroke="none"/>
<text x="696" y="891" text-anchor="middle">125</text>
<line x1="464.3" y1="917.4" x2="464.3" y2="958.4" stroke-width="1.45" />
<line x1="602.6" y1="917.4" x2="602.6" y2="970.4" stroke-width="1.45" />
<line x1="464.3" y1="923.1" x2="602.6" y2="923.1" stroke-width="1.5" /><polygon points="464.3,923.1 476.8,920.6 476.8,925.6" fill="#060606" stroke="none"/><polygon points="602.6,923.1 590.1,920.6 590.1,925.6" fill="#060606" stroke="none"/>
<text x="532" y="916" text-anchor="middle">150</text>
<line x1="399" y1="942.8" x2="427.4" y2="942.8" stroke-width="1.45" />
<line x1="405.6" y1="942.8" x2="405.6" y2="1002.4" stroke-width="1.5" /><polygon points="405.6,942.8 403.1,955.3 408.1,955.3" fill="#060606" stroke="none"/><polygon points="405.6,1002.4 403.1,989.9 408.1,989.9" fill="#060606" stroke="none"/>
<text transform="translate(398.4,972.8) rotate(-90)" text-anchor="middle">65</text>
<line x1="734" y1="1003.4" x2="800" y2="1003.4" stroke-width="1.45" />
<line x1="734" y1="1333.6" x2="800" y2="1333.6" stroke-width="1.45" />
<line x1="793.7" y1="1003.4" x2="793.7" y2="1333.6" stroke-width="1.5" /><polygon points="793.7,1003.4 791.2,1015.9 796.2,1015.9" fill="#060606" stroke="none"/><polygon points="793.7,1333.6 791.2,1321.1 796.2,1321.1" fill="#060606" stroke="none"/>
<text transform="translate(786.8,1168.8) rotate(-90)" text-anchor="middle">358</text>
<line x1="754.4" y1="932.6" x2="839.4" y2="932.6" stroke-width="1.45" />
<line x1="754.4" y1="1353.9" x2="839.4" y2="1353.9" stroke-width="1.45" />
<line x1="833.2" y1="932.6" x2="833.2" y2="1353.9" stroke-width="1.5" /><polygon points="833.2,932.6 830.7,945.1 835.7,945.1" fill="#060606" stroke="none"/><polygon points="833.2,1353.9 830.7,1341.4 835.7,1341.4" fill="#060606" stroke="none"/>
<text transform="translate(826.4,1143) rotate(-90)" text-anchor="middle">458</text>
<line x1="84.6" y1="1334" x2="84.6" y2="1399" stroke-width="1.45" />
<line x1="734" y1="1334" x2="734" y2="1399" stroke-width="1.45" />
<line x1="84.6" y1="1392.8" x2="734" y2="1392.8" stroke-width="1.5" /><polygon points="84.6,1392.8 97.1,1390.3 97.1,1395.3" fill="#060606" stroke="none"/><polygon points="734,1392.8 721.5,1390.3 721.5,1395.3" fill="#060606" stroke="none"/>
<text x="408.6" y="1386" text-anchor="middle">704.5</text>
<line x1="64.5" y1="1354" x2="64.5" y2="1439.8" stroke-width="1.45" />
<line x1="754.4" y1="1354" x2="754.4" y2="1439.8" stroke-width="1.45" />
<line x1="64.5" y1="1433.8" x2="754.4" y2="1433.8" stroke-width="1.5" /><polygon points="64.5,1433.8 77.0,1431.3 77.0,1436.3" fill="#060606" stroke="none"/><polygon points="754.4,1433.8 741.9,1431.3 741.9,1436.3" fill="#060606" stroke="none"/>
<text x="408.6" y="1427.6" text-anchor="middle">749.5</text>
<path d="M988.5,1121.6 L988.5,1185.6 Q988.5,1189.2 991.6,1190.8 L1209.2,1315.8" stroke-width="3.6" fill="none" />
<path d="M1209.2,1315.8 Q1214,1320.4 1218.9,1315 L1325.6,1255.2 Q1328.2,1253.8 1328.2,1250.6 L1328.2,1186.4" stroke-width="3.6" fill="none" />
<line x1="1209.4" y1="1252.2" x2="1209.4" y2="1315.8" stroke-width="2.0" />
<line x1="1218.9" y1="1251.4" x2="1218.9" y2="1315" stroke-width="2.0" />
<path d="M974.4,1110.6 L1115.8,1027.6 Q1119.1,1025.7 1122.4,1027.6 L1359.4,1164.4 Q1362.8,1166.4 1359.4,1168.4 L1217.2,1249.4 Q1214,1251.2 1210.8,1249.4 L974.4,1113.8 Q971.4,1112.2 974.4,1110.6 Z" stroke-width="2.0" fill="none" />
<path d="M974.6,1114.2 L1210.6,1249.8 Q1214,1251.8 1217.4,1249.8 L1359.4,1168.8" stroke-width="3.0" fill="none" />
<path d="M990.6,1109.6 L1098.2,1047.4 Q1101.7,1045.4 1105.2,1047.4 L1325.6,1173.8 Q1329.6,1176.2 1325.6,1178.6 L1216,1241.2 Q1212.6,1243 1209.2,1241.2 L990.6,1114.6 Q986.4,1112 990.6,1109.6 Z" stroke-width="2.6" fill="#fff" />
<line x1="1222.6" y1="1236.6" x2="1305.6" y2="1189.4" stroke-width="1.6" />
<line x1="1097" y1="1048.4" x2="1097" y2="1122" stroke-width="1.8" />
<line x1="1106.7" y1="1048.4" x2="1106.7" y2="1122.6" stroke-width="1.8" />
<path d="M1097,1122 Q1097.4,1127.4 1101.9,1127.6 Q1106.4,1127.2 1106.7,1122.6" stroke-width="1.6" fill="none" />
<path d="M1097,1122 Q1101.8,1119.2 1106.7,1122.6" stroke-width="1.2" fill="none" />
<line x1="1096.6" y1="1122.6" x2="1050.2" y2="1147.8" stroke-width="1.8" />
<line x1="1100.4" y1="1127.8" x2="1056.6" y2="1151.4" stroke-width="1.8" />
<line x1="1095.2" y1="1139" x2="1064.2" y2="1155.8" stroke-width="2.2" />
<line x1="1106.9" y1="1123.6" x2="1264.4" y2="1212.6" stroke-width="1.8" />
<line x1="1103.6" y1="1128.6" x2="1257.2" y2="1216.8" stroke-width="1.8" />
<polygon points="1093.2,1138.6 1099,1138 1223,1236.2 1218.6,1239.6" fill="#060606" stroke="#060606" stroke-width="1"/>
<line x1="1150" y1="1186" x2="1217" y2="1239.6" stroke-width="1.0" />
<line x1="1186" y1="1218.6" x2="1214.6" y2="1240.6" stroke-width="1.1" />
<polygon points="1109.6,1056 1217.2,1118.5 1217.2,1126.3 1109.6,1065.2" fill="#060606" stroke="#060606" stroke-width="1"/><line x1="1112.1" y1="1061.8" x2="1215.7" y2="1123.3156000000001" stroke-width="0.7" stroke="#fff"/><line x1="1112.1" y1="1064.192" x2="1215.7" y2="1125.5076000000001" stroke-width="0.6" stroke="#ddd"/>
<polygon points="1212.6,1119.6 1215.8,1119.6 1215.8,1122.6" fill="#fff" stroke="none"/>
<polygon points="1109.6,1069.2 1311,1186.2 1305,1189.6 1109.6,1077.4" fill="#060606" stroke="#060606" stroke-width="1"/>
<line x1="1112.1" y1="1074.4" x2="1303" y2="1186.8134" stroke-width="0.7" stroke="#fff"/>
<line x1="1112.1" y1="1076.4" x2="1302" y2="1188.6134000000002" stroke-width="0.6" stroke="#ddd"/>
<path d="M994.2,1126.8 L994.2,1130.3 L1098.4,1189.8 Q1100.6,1190.4 1100,1187.3" stroke-width="2.7" fill="none" />
<path d="M993.8,1137.0 L1206,1258.2 L1206,1265.6 L993.8,1144.4 Z" stroke-width="2.2" fill="none" />
<path d="M994.6,1138.5 L998.6,1142.0 L994.6,1143.7" stroke-width="1.5" fill="none" />
<polygon points="1223.8,1113 1240.4,1104 1318.8,1144.8 1301.4,1154.6 1296.4,1155 " fill="#fff" stroke="#060606" stroke-width="1.8"/>
<polygon points="1223.8,1114.4 1296.4,1156 1296.4,1166.6 1223.8,1124.6" fill="#060606" stroke="#060606" stroke-width="1.6"/>
<line x1="1225.4" y1="1117.2" x2="1295" y2="1157.2" stroke-width="0.8" stroke="#fff"/>
<line x1="1226" y1="1123" x2="1294" y2="1162.2" stroke-width="0.6" stroke="#bbb" stroke-dasharray="1 1.2"/>
<polygon points="1294.2,1157.8 1295.6,1158.6 1295.6,1165 1294.2,1164.2" fill="#fff" stroke="none"/>
<line x1="1254.6" y1="1105.8" x2="1290" y2="1126" stroke-width="1.2" />
<polygon points="1307.6,1136.4 1318.8,1144.8 1301.6,1154.6 1293,1149.6" fill="#fff" stroke="#060606" stroke-width="1.6"/>
<line x1="1262.2" y1="1123.2" x2="1274.4" y2="1130.4" stroke-width="2.8" stroke-linecap="round"/>
<ellipse cx="1294.2" cy="1141.6" rx="13.4" ry="7.8" stroke-width="1" fill="#060606" />
<path d="M1286.2,1133.4 L1286.2,1143.4 A10.3,5.2 0 0 0 1306.8,1143.4 L1306.8,1133.4 Z" stroke-width="1.6" fill="#fff" />
<ellipse cx="1296.5" cy="1133.4" rx="10.3" ry="5.2" stroke-width="2.5" fill="#fff" />
<path d="M1296,1149.8 A10.5,5.2 0 0 0 1306.6,1146.4" stroke-width="2.2" fill="none" />
<path d="M1240.5,1009 L1240.5,1114.6 Q1240.8,1117.6 1247,1117.8 Q1253.2,1117.6 1253.5,1114.6 L1253.5,1006" stroke-width="1.9" fill="#fff" />
<path d="M1240.5,1009 Q1247,1011.6 1253.5,1008.6" stroke-width="1.4" fill="none" />
<path d="M1253.5,1009 C1253.8,996 1250,976.2 1229,975.6 C1203,975.4 1180,1003 1175.6,1037.6 L1174.6,1047 Q1171,1052 1169.4,1058 L1163.8,1078.2 Q1166,1084.4 1175.2,1085 Q1186,1084.8 1187.6,1079.6 L1188.6,1063 Q1188.4,1054 1186.6,1047 L1187.9,1040.4 C1190.6,1012 1210,989 1227,988.6 C1238,988.4 1240.8,999 1240.5,1009" stroke-width="1.9" fill="#fff" />
<path d="M1175.4,1041.4 Q1181,1044 1187.6,1041.6" stroke-width="1.6" fill="none" />
<path d="M1174.8,1046.4 Q1181,1049 1187.2,1046.6" stroke-width="1.6" fill="none" />
<path d="M1174,1070.8 Q1181,1072.6 1188,1070" stroke-width="1.5" fill="none" />
<path d="M1173.6,1074.4 Q1181,1076.4 1187.8,1073.8" stroke-width="1.5" fill="none" />
<path d="M1171.6,1053.6 L1175.2,1056.4 L1174.6,1074.6 L1168.4,1076 L1166,1073.6 Z" stroke-width="1" fill="#060606" />
<circle cx="1172.8" cy="1054.4" r="1.9" stroke-width="1.2" fill="#fff"/>
<circle cx="1175.6" cy="1053.2" r="1.5" stroke-width="1.0" fill="#fff"/>
<circle cx="1169.8" cy="1067" r="1.0" stroke-width="0" fill="#fff"/>
</svg>
</body></html>
